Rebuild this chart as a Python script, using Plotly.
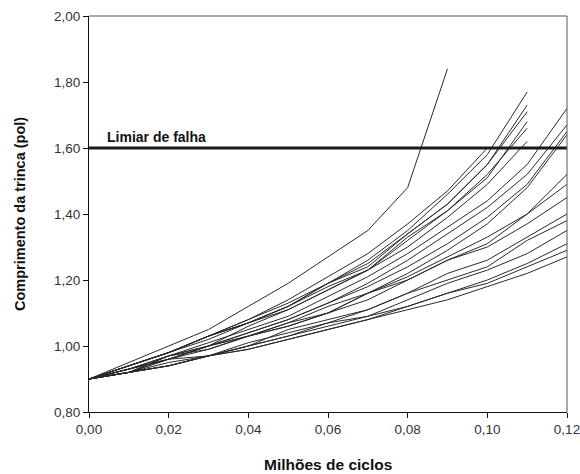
import plotly.graph_objects as go

cycles = [0.00, 0.01, 0.02, 0.03, 0.04, 0.05, 0.06, 0.07, 0.08, 0.09, 0.10, 0.11, 0.12]

paths = [
    [0.90, 0.95, 1.00, 1.05, 1.12, 1.19, 1.27, 1.35, 1.48, 1.84],
    [0.90, 0.94, 0.98, 1.03, 1.08, 1.14, 1.21, 1.28, 1.37, 1.47, 1.60],
    [0.90, 0.94, 0.98, 1.03, 1.08, 1.13, 1.19, 1.26, 1.35, 1.46, 1.58, 1.77],
    [0.90, 0.94, 0.98, 1.03, 1.07, 1.12, 1.19, 1.25, 1.34, 1.43, 1.55, 1.73],
    [0.90, 0.94, 0.98, 1.03, 1.07, 1.12, 1.19, 1.24, 1.34, 1.43, 1.55, 1.71],
    [0.90, 0.94, 0.98, 1.03, 1.07, 1.12, 1.18, 1.23, 1.33, 1.41, 1.51, 1.68],
    [0.90, 0.94, 0.98, 1.02, 1.07, 1.11, 1.17, 1.23, 1.32, 1.41, 1.52, 1.66],
    [0.90, 0.93, 0.97, 1.00, 1.06, 1.11, 1.17, 1.23, 1.30, 1.39, 1.49, 1.62],
    [0.90, 0.92, 0.97, 1.01, 1.05, 1.09, 1.15, 1.21, 1.28, 1.36, 1.44, 1.55, 1.72],
    [0.90, 0.92, 0.96, 1.00, 1.04, 1.08, 1.13, 1.19, 1.26, 1.34, 1.42, 1.52, 1.67],
    [0.90, 0.93, 0.96, 1.00, 1.04, 1.08, 1.13, 1.18, 1.24, 1.31, 1.39, 1.49, 1.65],
    [0.90, 0.93, 0.97, 1.00, 1.03, 1.07, 1.10, 1.16, 1.22, 1.29, 1.37, 1.48, 1.64],
    [0.90, 0.92, 0.97, 0.99, 1.03, 1.06, 1.10, 1.14, 1.20, 1.26, 1.31, 1.40, 1.52],
    [0.90, 0.93, 0.96, 1.00, 1.03, 1.07, 1.12, 1.16, 1.20, 1.26, 1.30, 1.37, 1.45],
    [0.90, 0.92, 0.96, 0.99, 1.03, 1.06, 1.10, 1.16, 1.21, 1.27, 1.33, 1.40, 1.49],
    [0.90, 0.92, 0.95, 0.97, 1.00, 1.03, 1.07, 1.11, 1.16, 1.22, 1.26, 1.33, 1.40],
    [0.90, 0.93, 0.96, 0.97, 1.00, 1.05, 1.08, 1.11, 1.16, 1.20, 1.24, 1.32, 1.38],
    [0.90, 0.92, 0.94, 0.97, 1.01, 1.04, 1.07, 1.09, 1.14, 1.19, 1.23, 1.28, 1.35],
    [0.90, 0.92, 0.94, 0.97, 1.00, 1.03, 1.06, 1.09, 1.12, 1.16, 1.20, 1.25, 1.31],
    [0.90, 0.92, 0.94, 0.97, 0.99, 1.02, 1.05, 1.08, 1.12, 1.16, 1.19, 1.24, 1.29],
    [0.90, 0.92, 0.94, 0.97, 0.99, 1.02, 1.05, 1.08, 1.11, 1.14, 1.18, 1.22, 1.27],
]

threshold = 1.60
threshold_label = "Limiar de falha"
x_title = "Milhões de ciclos"
y_title = "Comprimento da trinca (pol)"

x_ticks = [0.00, 0.02, 0.04, 0.06, 0.08, 0.10, 0.12]
x_tick_text = ["0,00", "0,02", "0,04", "0,06", "0,08", "0,10", "0,12"]
y_ticks = [0.80, 1.00, 1.20, 1.40, 1.60, 1.80, 2.00]
y_tick_text = ["0,80", "1,00", "1,20", "1,40", "1,60", "1,80", "2,00"]

FAM = "Liberation Sans, Arial"

fig = go.Figure()
for p in paths:
    fig.add_trace(go.Scatter(
        x=cycles[:len(p)], y=p, mode="lines",
        line=dict(color="#2a2a2a", width=1),
        showlegend=False, hoverinfo="skip",
    ))

fig.add_trace(go.Scatter(
    x=[x_ticks[0], x_ticks[-1]], y=[threshold, threshold], mode="lines",
    line=dict(color="#1a1a1a", width=2.8),
    showlegend=False, hoverinfo="skip", cliponaxis=False,
))

fig.add_annotation(
    x=0.004, y=threshold, xref="x", yref="y",
    text="<b>" + threshold_label + "</b>", showarrow=False,
    xanchor="left", yanchor="bottom", yshift=1,
    font=dict(family=FAM, size=14, color="#111"),
)
fig.add_annotation(
    x=0.5, y=0, xref="paper", yref="paper",
    text="<b>" + x_title + "</b>", showarrow=False,
    xanchor="center", yanchor="middle", yshift=-52,
    font=dict(family=FAM, size=15.5, color="#111"),
)
fig.add_annotation(
    x=0, y=0.5, xref="paper", yref="paper",
    text="<b>" + y_title + "</b>", showarrow=False, textangle=-90,
    xanchor="center", yanchor="middle", xshift=-69,
    font=dict(family=FAM, size=14.5, color="#111"),
)

font = dict(family=FAM, size=13.5, color="#333")

fig.update_layout(
    width=580, height=474,
    margin=dict(l=89, r=13, t=16, b=62),
    paper_bgcolor="white", plot_bgcolor="white",
    font=font,
    xaxis=dict(
        range=[0, 0.12], tickvals=x_ticks, ticktext=x_tick_text,
        showgrid=False, zeroline=False, automargin=False,
        ticklabeloverflow="allow",
        showline=True, linecolor="#111", linewidth=1,
        ticks="outside", ticklen=5, tickcolor="#111",
        tickfont=font,
    ),
    yaxis=dict(
        range=[0.80, 2.00], tickvals=y_ticks, ticktext=y_tick_text,
        showgrid=False, zeroline=False, automargin=False,
        ticklabeloverflow="allow",
        showline=True, linecolor="#111", linewidth=1,
        ticks="outside", ticklen=5, tickcolor="#111",
        tickfont=font,
    ),
    shapes=[
        dict(type="line", xref="paper", yref="paper", x0=0, x1=1, y0=1, y1=1,
             line=dict(color="#555", width=1)),
        dict(type="line", xref="paper", yref="paper", x0=1, x1=1, y0=0, y1=1,
             line=dict(color="#555", width=1)),
    ],
)

fig.write_html("out.html")
